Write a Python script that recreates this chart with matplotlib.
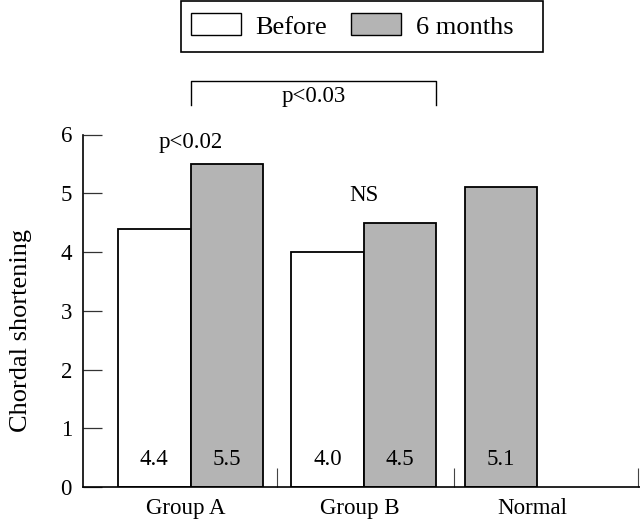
import numpy as np
import matplotlib
matplotlib.use("Agg")
import matplotlib.pyplot as plt
from matplotlib.patches import Patch, Rectangle

plt.rcParams['font.family'] = ['Liberation Serif', 'DejaVu Serif']

# data
groups = ['Group A', 'Group B', 'Normal']
before = [4.4, 4.0, None]
after = [5.5, 4.5, 5.1]
value_labels_before = ['4.4', '4.0', None]
value_labels_after = ['5.5', '4.5', '5.1']

group_pos = np.array([0, 2.39, 4.78])
sep_pos = [1.19, 3.63, 6.17]
w = 1.0
grey = '#b4b4b4'

fig = plt.figure(figsize=(6.4, 5.2), dpi=100)
ax = fig.add_axes([83/640, 33/520, 557/640, 352.5/520])

for i, g in enumerate(groups):
    c = group_pos[i]
    if before[i] is not None:
        ax.bar(c - w/2, before[i], width=w, color='white', edgecolor='black', linewidth=1.3)
        ax.text(c - w/2, 0.46, value_labels_before[i], ha='center', va='center', fontsize=16.5)
        xa = c + w/2
    else:
        # normal group only has one bar, sits in left slot
        xa = c - w/2
    ax.bar(xa, after[i], width=w, color=grey, edgecolor='black', linewidth=1.3)
    ax.text(xa, 0.46, value_labels_after[i], ha='center', va='center', fontsize=16.5)

ax.set_xlim(-1.483, 6.2)
ax.set_ylim(0, 6)
ax.set_yticks(range(7))
ax.set_xticks(group_pos - 0.06)
ax.set_xticklabels(groups, fontsize=16.5)
ax.set_xticks(sep_pos, minor=True)
ax.tick_params(axis='x', which='major', length=0, pad=8)
ax.tick_params(axis='x', which='minor', direction='in', length=14, width=0.8, color='#444444')
ax.tick_params(axis='y', direction='in', length=14, width=0.9, color='#333333', labelsize=16.5, pad=8)
ax.spines['top'].set_visible(False)
ax.spines['right'].set_visible(False)
ax.spines['left'].set_linewidth(1.2)
ax.spines['bottom'].set_linewidth(1.2)
ax.set_ylabel('Chordal shortening', fontsize=19)
ax.yaxis.set_label_coords(-0.092, 0.443)

# significance annotations
ax.text(group_pos[0], 5.86, 'p<0.02', ha='center', va='center', fontsize=16.5)
ax.text(group_pos[1], 4.97, 'NS', ha='center', va='center', fontsize=16.5)
bx0, bx1 = group_pos[0], group_pos[1] + w
ax.plot([bx0, bx0, bx1, bx1], [6.5, 6.91, 6.91, 6.5], color='black', lw=1.0, clip_on=False)
ax.text((bx0 + bx1) / 2, 6.64, 'p<0.03', ha='center', va='center', fontsize=16.5)

handles = [Patch(facecolor='white', edgecolor='black', linewidth=1.0),
           Patch(facecolor=grey, edgecolor='black', linewidth=1.0)]
leg = fig.legend(handles, ['Before', '6 months'], loc='center', bbox_to_anchor=(352/640, 1 - 26/520),
                 ncol=2, fontsize=19, frameon=False,
                 handlelength=1.9, handleheight=0.9, handletextpad=0.55, columnspacing=0.9)
fig.patches.append(Rectangle((181/640, 1 - 52/520), 362/640, 51/520, transform=fig.transFigure,
                             facecolor='none', edgecolor='black', linewidth=1.2))

fig.savefig('out.png', dpi=100)
